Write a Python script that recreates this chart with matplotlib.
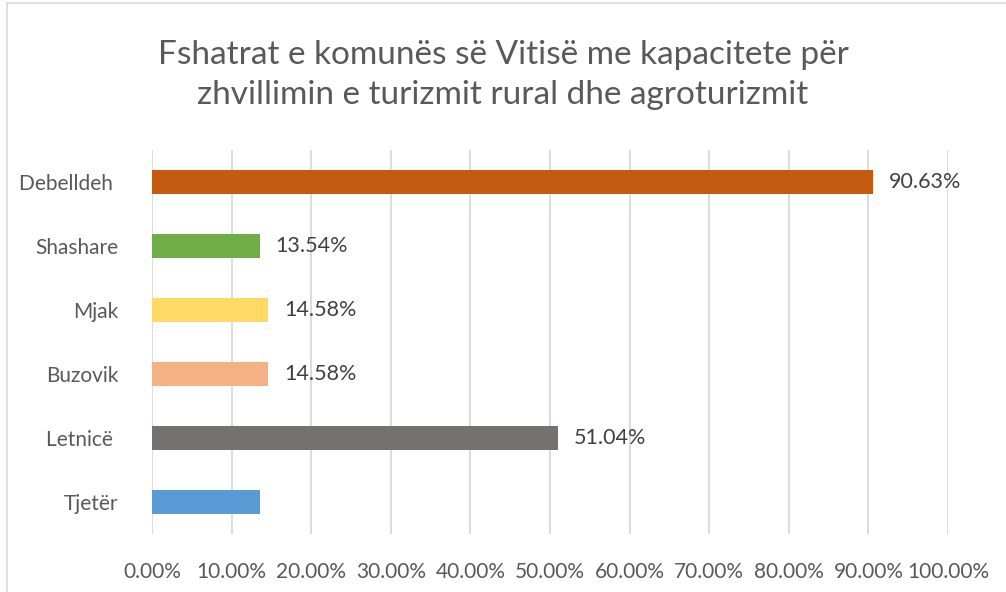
import matplotlib.pyplot as plt
from matplotlib.lines import Line2D

# data (top to bottom as shown)
villages = ['Debelldeh ', 'Shashare', 'Mjak', 'Buzovik', 'Letnicë ', 'Tjetër']
values = [90.63, 13.54, 14.58, 14.58, 51.04, 13.54]
labels = ['90.63%', '13.54%', '14.58%', '14.58%', '51.04%', '']
colors = ['#C55A11', '#70AD47', '#FFD966', '#F4B183', '#767171', '#5B9BD5']
ticks = [0, 10, 20, 30, 40, 50, 60, 70, 80, 90, 100]

plt.rcParams['font.family'] = ['Lato', 'DejaVu Sans']

W, H = 1006, 592
fig = plt.figure(figsize=(W / 100, H / 100), dpi=100)
ax = fig.add_axes([152 / W, (H - 534) / H, (948 - 152) / W, (534 - 150) / H])

n = len(villages)
pos = [n - 1 - i for i in range(n)]
ax.barh(pos, values, height=0.36, color=colors, zorder=3)
for p, v, lab in zip(pos, values, labels):
    if lab:
        ax.text(v + 2.0, p, lab, va='center', ha='left', fontsize=15.5, color='#404040')

ax.set_xlim(0, 100)
ax.set_ylim(-0.5, n - 0.5)
ax.set_xticks(ticks)
ax.set_xticklabels(['%.2f%%' % t for t in ticks])
ax.set_yticks(pos)
ax.set_yticklabels(villages)
ax.tick_params(axis='both', length=0, colors='#595959')
ax.tick_params(axis='x', pad=20, labelsize=15)
ax.tick_params(axis='y', pad=24, labelsize=15)
ax.grid(axis='x', color='#D9D9D9', linewidth=1.3, zorder=0)
for s in ax.spines.values():
    s.set_visible(False)

fig.text(0.5, 1 - 75 / H, 'Fshatrat e komunës së Vitisë me kapacitete për\nzhvillimin e turizmit rural dhe agroturizmit',
         ha='center', va='center', fontsize=24, color='#595959', linespacing=1.38)

# chart border (left and top visible)
fig.add_artist(Line2D([6.5 / W, 6.5 / W], [0, 1 - 3 / H], transform=fig.transFigure, color='#D9D9D9', lw=1.2))
fig.add_artist(Line2D([6.5 / W, 1], [1 - 3 / H, 1 - 3 / H], transform=fig.transFigure, color='#D9D9D9', lw=1.2))

fig.savefig('out.png', dpi=100)
